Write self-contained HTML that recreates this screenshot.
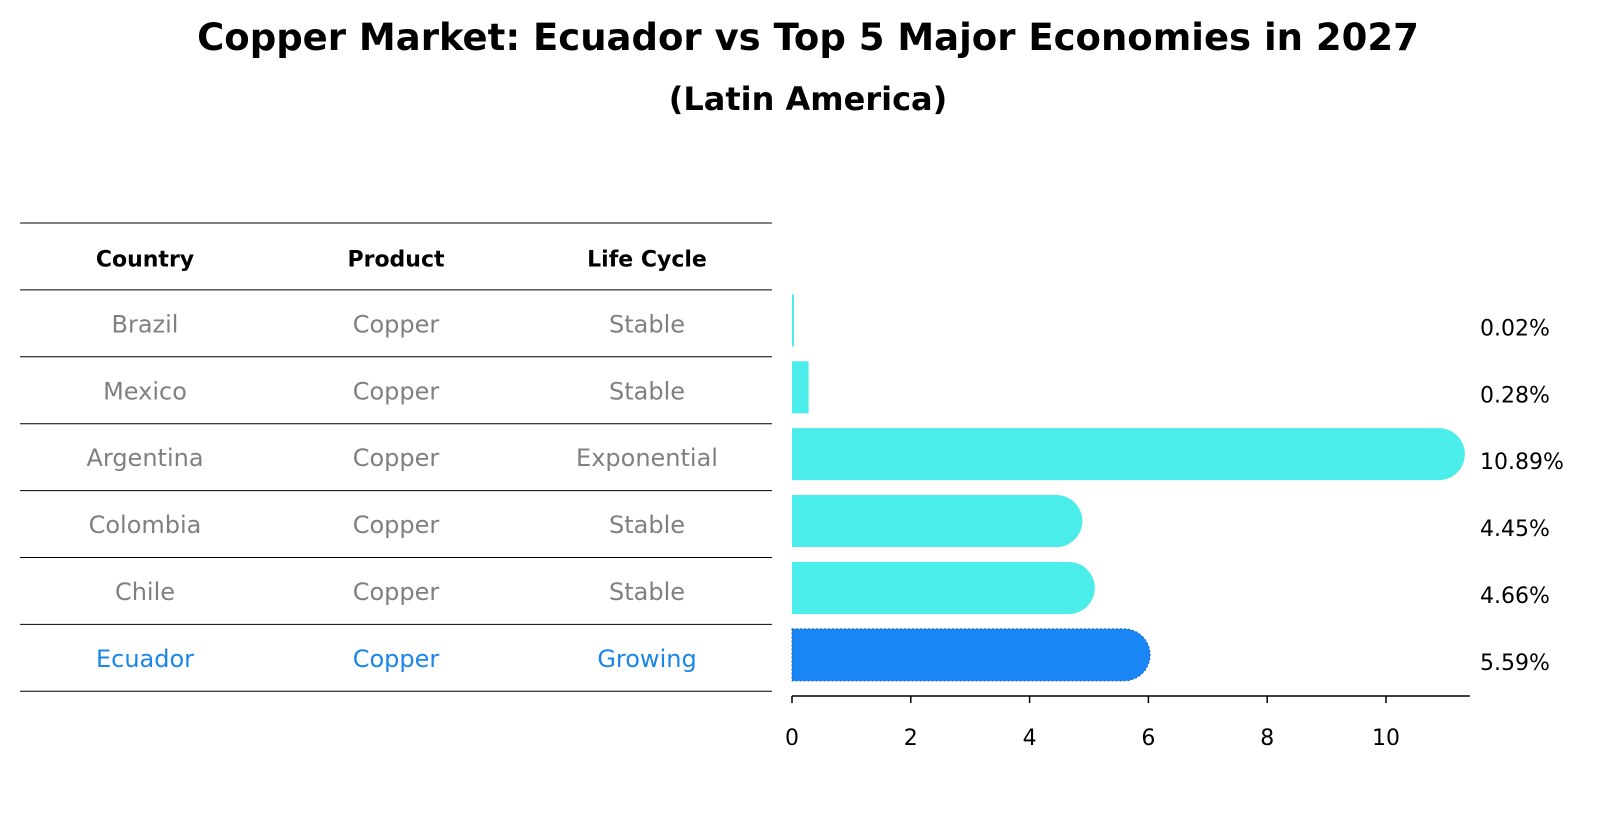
<!DOCTYPE html>
<html><head><meta charset="utf-8"><style>
body{margin:0;background:#fff;font-family:"Liberation Sans","DejaVu Sans",sans-serif;}
#wrap{position:relative;width:1604px;height:823px;overflow:hidden;}
</style></head><body>
<div id="wrap">
<svg id="svg" width="1604" height="823" xmlns="http://www.w3.org/2000/svg" font-family="DejaVu Sans, Liberation Sans, sans-serif">
<text x="808" y="50" text-anchor="middle" font-size="37" font-weight="bold">Copper Market: Ecuador vs Top 5 Major Economies in 2027</text>
<text x="808" y="110" text-anchor="middle" font-size="32" font-weight="bold">(Latin America)</text>
<g id="table"></g>
<g id="bars"></g>
</svg>
</div>
<script>
const countries=["Brazil","Mexico","Argentina","Colombia","Chile","Ecuador"];
const products=["Copper","Copper","Copper","Copper","Copper","Copper"];
const lifeCycles=["Stable","Stable","Exponential","Stable","Stable","Growing"];
const shares=[0.02,0.28,10.89,4.45,4.66,5.59];
const shareLabels=["0.02%","0.28%","10.89%","4.45%","4.66%","5.59%"];
const xTicks=[0,2,4,6,8,10];

const NS="http://www.w3.org/2000/svg";
function mk(tag,attrs,parent,text){const e=document.createElementNS(NS,tag);for(const k in attrs)e.setAttribute(k,attrs[k]);if(text!==undefined)e.textContent=text;parent.appendChild(e);return e;}
const tbl=document.getElementById('table');
const rowH=66.9, headTop=223;
function rowCenter(i){return headTop+rowH*(i+1.5);}
for(let i=0;i<=countries.length+1;i++){
  const l=mk('line',{x1:20,x2:772,y1:headTop+rowH*i,y2:headTop+rowH*i,stroke:'#000','stroke-width':1},tbl);
  
  
}
const colX=[145,396,647];
["Country","Product","Life Cycle"].forEach((h,j)=>{
  const t=mk('text',{x:colX[j],y:headTop+rowH*0.5+10,'text-anchor':'middle','font-size':22,'font-weight':'bold'},tbl,h);
  
  
});
countries.forEach((c,i)=>{
  const col=i===countries.length-1?'#1a86ea':'#808080';
  [c,products[i],lifeCycles[i]].forEach((v,j)=>{
    const t=mk('text',{x:colX[j],y:rowCenter(i)+9,'text-anchor':'middle','font-size':24,fill:col},tbl,v);
    
    
  });
});
const g=document.getElementById('bars');
const x0=792, pxPer=59.4;
function xs(v){return x0+v*pxPer;}
const bh=52;
shares.forEach((v,i)=>{
  const cy=rowCenter(i)-3;
  const w=xs(v)-x0, r=bh/2;
  const ec=i===shares.length-1;
  const fill=ec?'#1a86f5':'#4aede9';
  let d;
  if(v>=1){d=`M${x0},${cy-r} H${x0+w} A${r},${r} 0 0 1 ${x0+w},${cy+r} H${x0} Z`;}
  else{const ww=Math.max(w,2);d=`M${x0},${cy-r} H${x0+ww} V${cy+r} H${x0} Z`;}
  const p=mk('path',{d:d,fill:fill},g);
  if(ec){p.setAttribute('stroke','#1560c8');p.setAttribute('stroke-dasharray','2,2');p.setAttribute('stroke-width','1');}
  
  
  const t=mk('text',{x:1480,y:rowCenter(i)+12,'font-size':22},g,shareLabels[i]);
  
  
});
const ax=mk('line',{x1:x0,x2:1470,y1:696,y2:696,stroke:'#000','stroke-width':1.5},g);


xTicks.forEach(v=>{
  const tk=mk('line',{x1:xs(v),x2:xs(v),y1:696,y2:703,stroke:'#000','stroke-width':1.5},g);
  
  
  const t=mk('text',{x:xs(v),y:745,'text-anchor':'middle','font-size':22},g,String(v));
  
  
});
</script>
</body></html>
